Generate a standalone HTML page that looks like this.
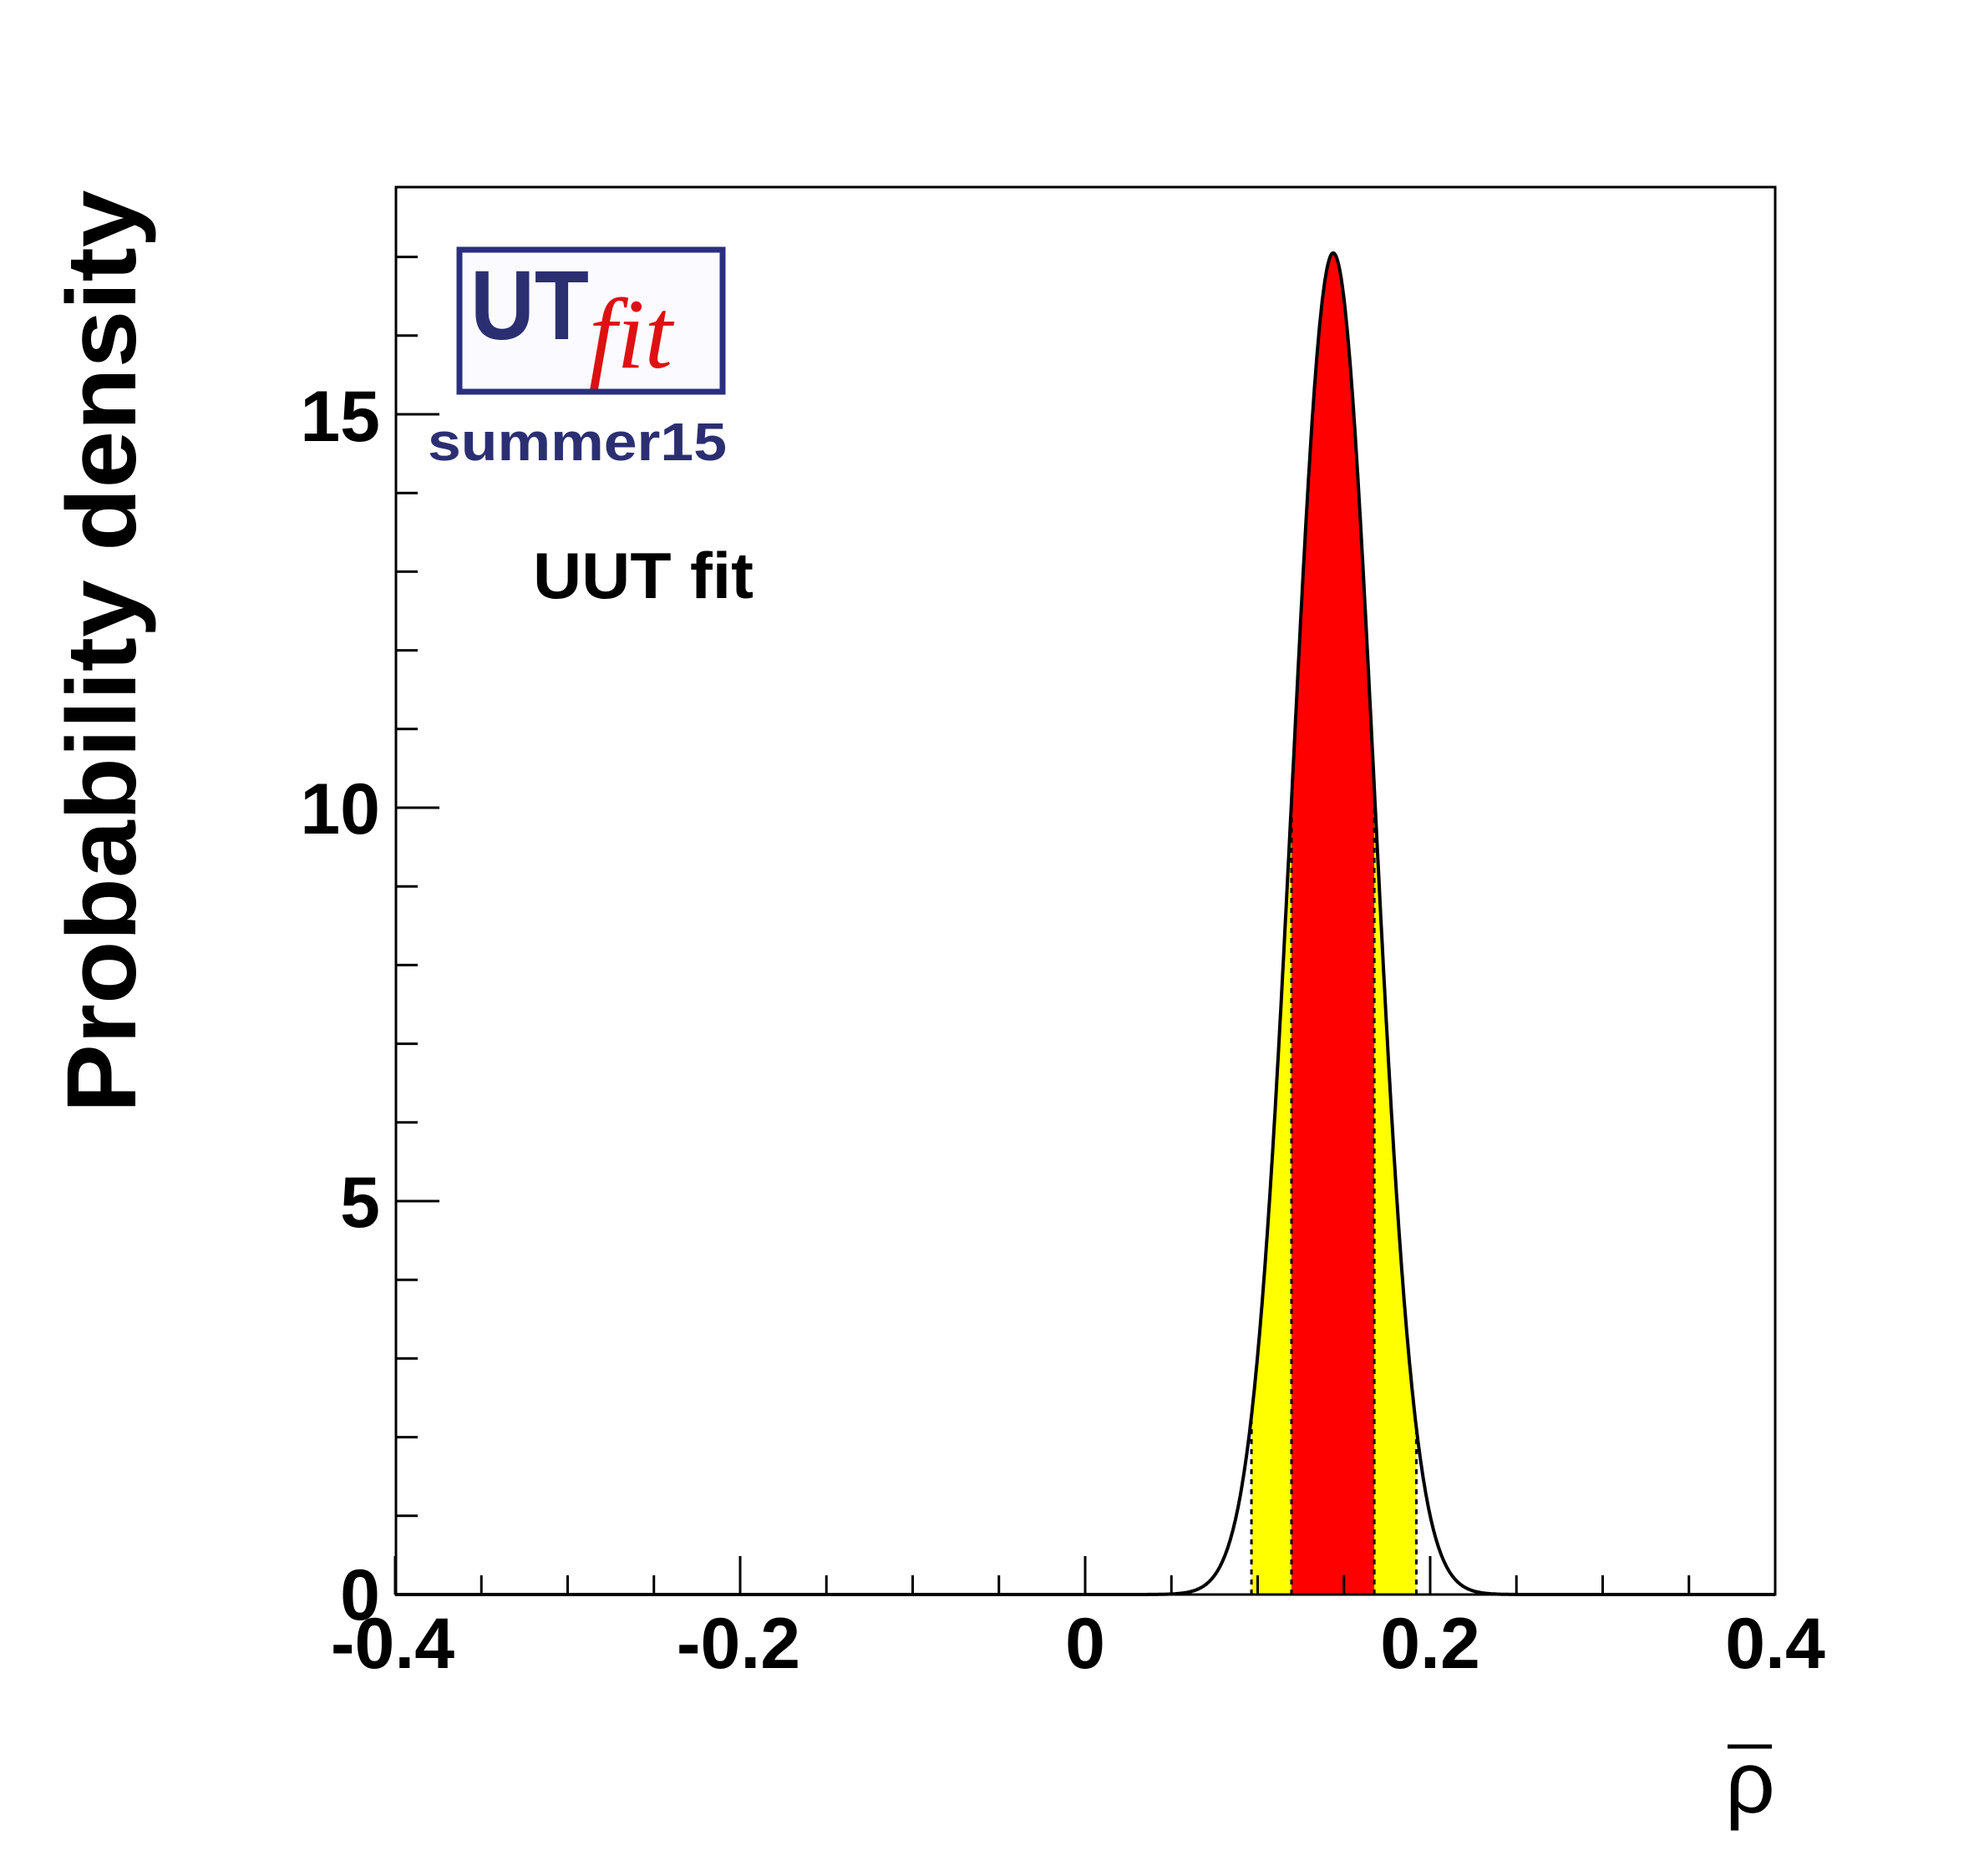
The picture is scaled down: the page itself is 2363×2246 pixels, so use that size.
<!DOCTYPE html>
<html><head><meta charset="utf-8"><style>html,body{margin:0;padding:0;background:#fff}svg{display:block}</style></head>
<body>
<svg id="s" width="2363" height="2246" viewBox="0 0 2363 2246" xmlns="http://www.w3.org/2000/svg" font-family="Liberation Sans, Arial, sans-serif">
<rect width="2363" height="2246" fill="#fff"/>
<g id="fills"></g>
<g id="ticks" stroke="#000" stroke-width="3"></g>
<rect x="474" y="224" width="1651" height="1685" fill="none" stroke="#000" stroke-width="3"/>
<g font-weight="bold" font-size="86" fill="#000">
<text x="470" y="1997" text-anchor="middle">-0.4</text>
<text x="884" y="1997" text-anchor="middle">-0.2</text>
<text x="1299" y="1997" text-anchor="middle">0</text>
<text x="1712" y="1997" text-anchor="middle">0.2</text>
<text x="2125" y="1997" text-anchor="middle">0.4</text>
<text x="455" y="1939" text-anchor="end">0</text>
<text x="455" y="1469" text-anchor="end">5</text>
<text x="455" y="998" text-anchor="end">10</text>
<text x="455" y="528" text-anchor="end">15</text>
</g>
<text transform="translate(162,780) rotate(-90)" text-anchor="middle" font-weight="bold" font-size="118" textLength="1105" lengthAdjust="spacingAndGlyphs">Probability density</text>
<text x="2095" y="2170" text-anchor="middle" font-size="105">ρ</text>
<line x1="2068" y1="2091" x2="2121" y2="2091" stroke="#000" stroke-width="5"/>
<rect x="550" y="299" width="315" height="170" fill="#fbfbff" stroke="#2b2f80" stroke-width="7"/>
<text x="563" y="406" font-weight="bold" font-size="118" fill="#2b2f72" textLength="142" lengthAdjust="spacingAndGlyphs">UT</text>
<text x="705" y="440" font-style="italic" font-family="Liberation Serif, serif" font-size="120" fill="#dd1111">fit</text>
<text x="512" y="551" font-weight="bold" font-size="64" fill="#2b2f72" textLength="358" lengthAdjust="spacingAndGlyphs">summer15</text>
<text x="638" y="716" font-weight="bold" font-size="78" fill="#000" textLength="264" lengthAdjust="spacingAndGlyphs">UUT fit</text>
<g id="curve"></g>
</svg>
<script>
var ns="http://www.w3.org/2000/svg";
function X(v){return 1299+v*2065;}
function Y(v){return 1909-v*94.2;}
var mu=0.1438,sg=0.0236,A=17.05;
function f(x){var z=(x-mu)/sg;return A*Math.exp(-0.5*z*z);}
function area(a,b,col){var d="M"+X(a)+","+Y(0);for(var x=a;x<=b+1e-9;x+=0.0005){d+=" L"+X(x).toFixed(1)+","+Y(f(x)).toFixed(1);}d+=" L"+X(b)+","+Y(f(b))+" L"+X(b)+","+Y(0)+"Z";var p=document.createElementNS(ns,"path");p.setAttribute("d",d);p.setAttribute("fill",col);document.getElementById("fills").appendChild(p);}
area(0.0964,0.192,"#ffff00");
area(0.1196,0.1676,"#ff0000");
[0.0964,0.1196,0.1676,0.192].forEach(function(v){var l=document.createElementNS(ns,"line");l.setAttribute("x1",X(v));l.setAttribute("x2",X(v));l.setAttribute("y1",Y(0));l.setAttribute("y2",Y(f(v)));l.setAttribute("stroke","#000");l.setAttribute("stroke-width","3");l.setAttribute("stroke-dasharray","6,6");document.getElementById("fills").appendChild(l);});
var d="";for(var x=-0.4;x<=0.4+1e-9;x+=0.0005){d+=(d?" L":"M")+X(x).toFixed(1)+","+Y(f(x)).toFixed(1);}
var c=document.createElementNS(ns,"path");c.setAttribute("d",d);c.setAttribute("fill","none");c.setAttribute("stroke","#000");c.setAttribute("stroke-width","4");document.getElementById("curve").appendChild(c);
var t=document.getElementById("ticks");
function ln(a,b,c2,e){var l=document.createElementNS(ns,"line");l.setAttribute("x1",a);l.setAttribute("y1",b);l.setAttribute("x2",c2);l.setAttribute("y2",e);t.appendChild(l);}
for(var i=0;i<=16;i++){var xv=-0.4+i*0.05;var xp=X(xv);ln(xp,1909,xp,1909-(i%4==0?46:23));}
for(var j=0;j<=17;j++){var yp=Y(j);ln(474,yp,474+(j%5==0?52:26),yp);}
</script>
</body></html>
